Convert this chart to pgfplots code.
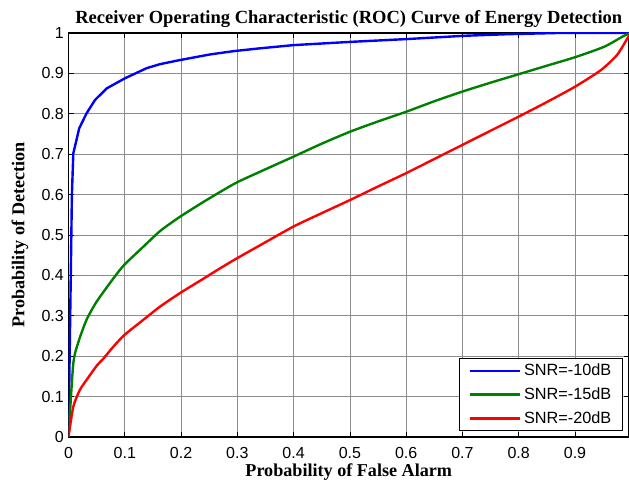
\documentclass[border=0pt]{standalone}
\usepackage{fontspec}
\setmainfont{Liberation Serif}
\newfontfamily\arialf{Liberation Sans}
\usepackage{pgfplots}
\pgfplotsset{compat=1.18}
\definecolor{mblue}{rgb}{0,0,1}
\definecolor{mgreen}{rgb}{0,0.5,0}
\definecolor{mred}{rgb}{1,0,0}
\begin{document}
\begin{tikzpicture}
\begin{axis}[
  width=420.4pt, height=303pt, scale only axis,
  xmin=0, xmax=0.996, ymin=0, ymax=1,
  xtick={0,0.1,0.2,0.3,0.4,0.5,0.6,0.7,0.8,0.9},
  xticklabels={0,0.1,0.2,0.3,0.4,0.5,0.6,0.7,0.8,0.9},
  ytick={0,0.1,0.2,0.3,0.4,0.5,0.6,0.7,0.8,0.9,1},
  yticklabels={0,0.1,0.2,0.3,0.4,0.5,0.6,0.7,0.8,0.9,1},
  tick label style={font=\arialf\fontsize{12}{13}\selectfont},
  xticklabel style={yshift=-4.5pt},
  axis line style={black, line width=0.9pt},
  major tick length=3.75pt,
  tick style={black, line width=0.5pt},
  grid=major,
  major grid style={black!45, line width=0.5pt},
  title={Receiver Operating Characteristic (ROC) Curve of Energy Detection},
  title style={font=\bfseries\fontsize{13.9}{15}\selectfont, at={(axis description cs:0.5,1.003)}, anchor=base},
  xlabel={Probability of False Alarm},
  ylabel={Probability of Detection},
  xlabel style={font=\bfseries\fontsize{13.6}{15}\selectfont, at={(axis description cs:0.5,-0.099)}, anchor=base},
  ylabel style={font=\bfseries\fontsize{13.6}{15}\selectfont, at={(axis description cs:-0.0865,0.5)}, anchor=center},
  legend style={draw=black, line width=0.6pt, fill=white,
    font=\arialf\fontsize{12.2}{14}\selectfont,
    at={(axis description cs:0.9893,0.0149)}, anchor=south east,
    row sep=3.5pt, inner xsep=6.5pt, inner ysep=2pt},
  legend cell align=left,
  legend image code/.code={\draw[#1, line width=1.8pt] (0pt,0pt) -- (38pt,0pt);},
]
\addplot[mblue, line width=1.8pt] coordinates {
(0,0) (0.003,0.30) (0.006,0.60) (0.0085,0.702) (0.019,0.764) (0.032,0.801)
(0.047,0.834) (0.068,0.863) (0.1005,0.888) (0.139,0.913) (0.163,0.923)
(0.198,0.933) (0.252,0.947) (0.293,0.955) (0.34,0.962) (0.400,0.970)
(0.501,0.978) (0.602,0.985) (0.702,0.993) (0.78,0.997) (0.87,1) (1,1)};
\addlegendentry{SNR=-10dB}
\addplot[mgreen, line width=1.8pt, smooth, tension=0.4] coordinates {
(0,0) (0.0085,0.182) (0.0178,0.236) (0.032,0.290) (0.050,0.335) (0.080,0.393)
(0.099,0.426) (0.133,0.471) (0.163,0.510) (0.198,0.545) (0.240,0.582)
(0.270,0.607) (0.299,0.630) (0.341,0.657) (0.400,0.694) (0.450,0.726) (0.501,0.756)
(0.550,0.781) (0.600,0.805) (0.650,0.831) (0.700,0.855) (0.750,0.877) (0.800,0.898) (0.850,0.919) (0.900,0.940) (0.952,0.966)
(0.987,0.993) (1,1)};
\addlegendentry{SNR=-15dB}
\addplot[mred, line width=1.8pt, smooth, tension=0.4] coordinates {
(0,0) (0.0085,0.075) (0.020,0.116) (0.032,0.141) (0.050,0.176) (0.062,0.194)
(0.080,0.224) (0.099,0.252) (0.133,0.290) (0.163,0.323) (0.198,0.356)
(0.240,0.392) (0.270,0.418) (0.299,0.442) (0.341,0.475) (0.400,0.521) (0.450,0.554) (0.501,0.587)
(0.550,0.620) (0.600,0.653) (0.650,0.688) (0.700,0.723) (0.750,0.758) (0.800,0.793) (0.850,0.829) (0.900,0.867) (0.946,0.908)
(0.975,0.946) (0.995,0.991) (1,1)};
\addlegendentry{SNR=-20dB}
\end{axis}
\pgfresetboundingbox
\path ([xshift=-51.4pt,yshift=-35.25pt]current axis.south west) rectangle ([yshift=24.75pt]current axis.north east);
\end{tikzpicture}
\end{document}
